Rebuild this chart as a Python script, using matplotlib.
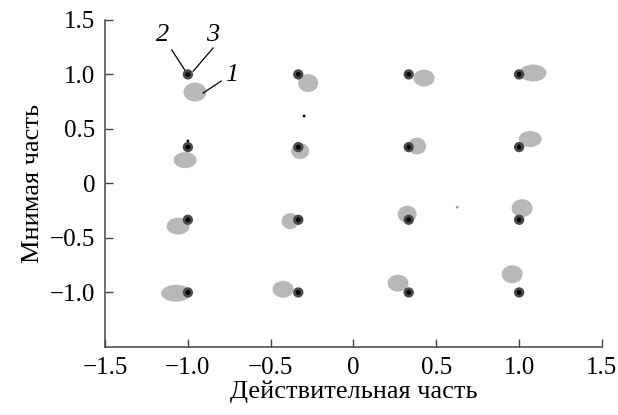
import matplotlib
matplotlib.use("Agg")
import matplotlib.pyplot as plt
from matplotlib.patches import Ellipse
import numpy as np

# ideal 16-QAM constellation points
levels = [-1.0, -1 / 3, 1 / 3, 1.0]
ideal_x = [x for y in levels[::-1] for x in levels]
ideal_y = [y for y in levels[::-1] for x in levels]

# received clouds (centre, width, height), row by row from top
cloud_x = [-0.957, -0.274, 0.426, 1.084,
           -1.017, -0.322, 0.384, 1.067,
           -1.059, -0.383, 0.324, 1.018,
           -1.071, -0.425, 0.269, 0.958]
cloud_y = [0.838, 0.921, 0.967, 1.013,
           0.214, 0.297, 0.343, 0.407,
           -0.392, -0.346, -0.282, -0.227,
           -1.007, -0.971, -0.915, -0.833]
cloud_w = [0.139, 0.121, 0.127, 0.163,
           0.139, 0.109, 0.109, 0.139,
           0.139, 0.103, 0.115, 0.127,
           0.181, 0.127, 0.127, 0.127]
cloud_h = [0.174, 0.165, 0.156, 0.156,
           0.147, 0.147, 0.156, 0.147,
           0.156, 0.147, 0.156, 0.165,
           0.156, 0.156, 0.156, 0.165]

# stray samples
stray_black_x = [-1.0, -0.298]
stray_black_y = [0.39, 0.618]
stray_gray_x = [0.626]
stray_gray_y = [-0.218]

x_ticks = [-1.5, -1.0, -0.5, 0, 0.5, 1.0, 1.5]
x_labels = ["\u22121.5", "\u22121.0", "\u22120.5", "0", "0.5", "1.0", "1.5"]
y_ticks = [-1.0, -0.5, 0, 0.5, 1.0, 1.5]
y_labels = ["\u22121.0", "\u22120.5", "0", "0.5", "1.0", "1.5"]

plt.rcParams["font.family"] = ["Liberation Serif", "DejaVu Serif"]

FS = 18

fig = plt.figure(figsize=(6.18, 4.15), dpi=100)
ax = fig.add_axes([0.170, 0.164, 0.804, 0.788])

gray = "#b8b8b8"
for x, y, w, h in zip(cloud_x, cloud_y, cloud_w, cloud_h):
    ax.add_patch(Ellipse((x, y), w, h, facecolor=gray, edgecolor="none", zorder=1))

ax.scatter(ideal_x, ideal_y, s=55, color="#4a4a4a", edgecolors="none", zorder=3)
ax.scatter(ideal_x, ideal_y, s=12, color="black", edgecolors="none", zorder=4)
ax.scatter(stray_black_x, stray_black_y, s=4, color="black", edgecolors="none", zorder=3)
ax.scatter(stray_gray_x, stray_gray_y, s=4, color="#999999", edgecolors="none", zorder=3)

# curve labels with leader lines
ax.plot([-1.097, -1.01], [1.224, 1.02], color="black", lw=0.9, zorder=2)
ax.plot([-0.848, -0.968], [1.242, 1.03], color="black", lw=0.9, zorder=2)
ax.plot([-0.799, -0.908], [0.939, 0.829], color="black", lw=0.9, zorder=2)
lab = dict(fontsize=19, style="italic", ha="center", va="center")
ax.text(-1.15, 1.36, "2", **lab)
ax.text(-0.85, 1.36, "3", **lab)
ax.text(-0.733, 0.995, "1", **lab)

ax.set_xlim(-1.5, 1.5)
ax.set_ylim(-1.5, 1.5)
ax.set_xticks(x_ticks, x_labels, fontsize=FS)
ax.set_yticks(y_ticks, y_labels, fontsize=FS)
ax.tick_params(direction="in", length=6, width=1, color="#444444", pad=7)
for side in ("top", "right"):
    ax.spines[side].set_visible(False)
for side in ("left", "bottom"):
    ax.spines[side].set_color("#444444")
    ax.spines[side].set_linewidth(1.1)

ax.set_xlabel("Действительная часть", fontsize=19, labelpad=1)
ax.set_ylabel("Мнимая часть", fontsize=19, labelpad=4)

fig.savefig("out.png", dpi=100)
